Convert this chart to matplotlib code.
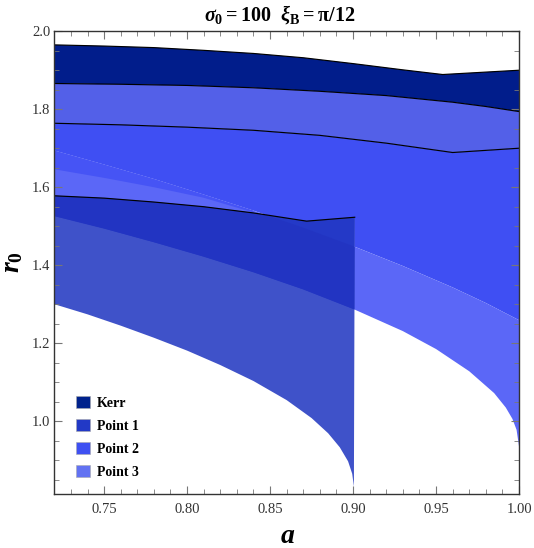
import numpy as np
import matplotlib
matplotlib.use("Agg")
import matplotlib.pyplot as plt
from matplotlib.patches import Polygon, Patch
from matplotlib.ticker import MultipleLocator, FormatStrFormatter

plt.rcParams['font.family'] = ['Liberation Serif', 'DejaVu Serif']
plt.rcParams['mathtext.fontset'] = 'custom'
plt.rcParams['mathtext.rm'] = 'Liberation Serif:bold'
plt.rcParams['mathtext.it'] = 'Liberation Serif:bold:italic'
plt.rcParams['mathtext.bf'] = 'Liberation Serif:bold'

# boundary curves (a, r0)
kerr_top_a = [0.72, 0.75, 0.78, 0.81, 0.84, 0.87, 0.90, 0.93, 0.954, 1.0]
kerr_top_r = [1.965, 1.962, 1.958, 1.951, 1.943, 1.932, 1.917, 1.901, 1.889, 1.900]

p3_top_a = [0.72, 0.76, 0.80, 0.84, 0.88, 0.92, 0.96, 0.98, 1.0]
p3_top_r = [1.866, 1.864, 1.861, 1.855, 1.846, 1.835, 1.818, 1.807, 1.794]

p2_top_a = [0.72, 0.76, 0.80, 0.84, 0.88, 0.92, 0.96, 1.0]
p2_top_r = [1.764, 1.760, 1.754, 1.746, 1.733, 1.713, 1.689, 1.700]

p1_top_a = [0.72, 0.75, 0.78, 0.81, 0.84, 0.872, 0.901]
p1_top_r = [1.578, 1.572, 1.562, 1.550, 1.534, 1.513, 1.523]

p2_bot_a = [0.72, 0.75, 0.78, 0.81, 0.84, 0.87, 0.90, 0.93, 0.96, 0.98, 1.0]
p2_bot_r = [1.694, 1.658, 1.621, 1.581, 1.540, 1.496, 1.449, 1.398, 1.343, 1.303, 1.259]

kerr_bot_a = [0.72, 0.75, 0.78, 0.81, 0.84]
kerr_bot_r = [1.646, 1.624, 1.600, 1.573, 1.535]

p3_bot_a = [0.72, 0.75, 0.78, 0.81, 0.84, 0.87, 0.90, 0.93, 0.95, 0.97,
            0.985, 0.992, 0.996, 0.9985, 1.0]
p3_bot_r = [1.526, 1.494, 1.459, 1.422, 1.382, 1.338, 1.288, 1.231, 1.185, 1.128,
            1.072, 1.035, 1.006, 0.978, 0.935]

p1_bot_a = [0.72, 0.74, 0.76, 0.78, 0.80, 0.82, 0.84, 0.86, 0.875, 0.885,
            0.892, 0.897, 0.8995, 0.9005]
p1_bot_r = [1.300, 1.274, 1.245, 1.214, 1.181, 1.144, 1.103, 1.054, 1.008, 0.969,
            0.933, 0.897, 0.865, 0.832]

labels = ['Kerr', 'Point 1', 'Point 2', 'Point 3']
legend_colors = ['#00228c', '#2239c6', '#3e50f2', '#6272f2']


def band(ax, ua, ur, la, lr, color, clip=None):
    pts = list(zip(ua, ur)) + list(zip(la, lr))[::-1]
    p = Polygon(pts, closed=True, facecolor=color, edgecolor='none', zorder=1)
    ax.add_patch(p)
    if clip is not None:
        p.set_clip_path(clip)
    return p


fig = plt.figure(figsize=(5.34, 5.48), dpi=100)
ax = fig.add_axes([0.1017, 0.098, 0.8703, 0.845])

band(ax, kerr_top_a, kerr_top_r, p3_top_a, p3_top_r, '#011d8b')
band(ax, p3_top_a, p3_top_r, p2_top_a, p2_top_r, '#5360e8')
band(ax, p2_top_a, p2_top_r, p2_bot_a, p2_bot_r, '#3f4ff3')
band(ax, p2_bot_a, p2_bot_r, p3_bot_a, p3_bot_r, '#5b67f7')
band(ax, p2_bot_a[:5], p2_bot_r[:5], kerr_bot_a, kerr_bot_r, '#4654f5')

# point 1 region, cut at a = 0.9
p1 = band(ax, p1_top_a, p1_top_r, p1_bot_a, p1_bot_r, '#3f52c9')
band(ax, p1_top_a, p1_top_r, p3_bot_a[:7], p3_bot_r[:7], '#2439c7', clip=p1)
band(ax, p2_bot_a[:8], p2_bot_r[:8], p3_bot_a[:8], p3_bot_r[:8], '#2234c2', clip=p1)

for xa, xr in [(kerr_top_a, kerr_top_r), (p3_top_a, p3_top_r),
               (p2_top_a, p2_top_r), (p1_top_a, p1_top_r)]:
    ax.plot(xa, xr, color='black', lw=0.85, zorder=3)

ax.set_xlim(0.72, 1.0)
ax.set_ylim(0.8125, 2.0)
ax.xaxis.set_major_locator(MultipleLocator(0.05))
ax.xaxis.set_minor_locator(MultipleLocator(0.01))
ax.yaxis.set_major_locator(MultipleLocator(0.2))
ax.yaxis.set_minor_locator(MultipleLocator(0.05))
ax.xaxis.set_major_formatter(FormatStrFormatter('%.2f'))
ax.yaxis.set_major_formatter(FormatStrFormatter('%.1f'))
ax.tick_params(which='both', direction='in', top=True, right=True,
               color='#777777', labelcolor='#333333', labelsize=10.5)
ax.tick_params(which='major', length=6, width=0.8)
ax.tick_params(which='minor', length=3.5, width=0.6)
ax.tick_params(axis='x', which='major', pad=6)
ax.tick_params(axis='y', which='major', pad=3)
for s in ax.spines.values():
    s.set_color('#333333')
    s.set_linewidth(1.0)
    s.set_zorder(6)
ax.set_axisbelow(False)

fig.text(288 / 534, 1 - 543 / 548, r'$a$', fontsize=20, ha='center', va='baseline')
fig.text(13 / 534, 1 - 262 / 548, r'$r_0$', fontsize=20, rotation=90,
         ha='center', va='center')
fig.text(280 / 534, 1 - 15 / 548,
         r'$\sigma_0 = 100\ \ \xi_{\mathrm{B}} = \mathrm{\pi}/12$',
         fontsize=14.5, ha='center', va='center')

handles = [Patch(facecolor=c, edgecolor='#aaaaaa', linewidth=0.4) for c in legend_colors]
ax.legend(handles, labels, loc='lower left', bbox_to_anchor=(0.02, 0.007),
          frameon=False, prop={'weight': 'bold', 'size': 10},
          handlelength=1.0, handleheight=1.0, handletextpad=0.5,
          labelspacing=0.65)

fig.savefig('out.png', dpi=100)
